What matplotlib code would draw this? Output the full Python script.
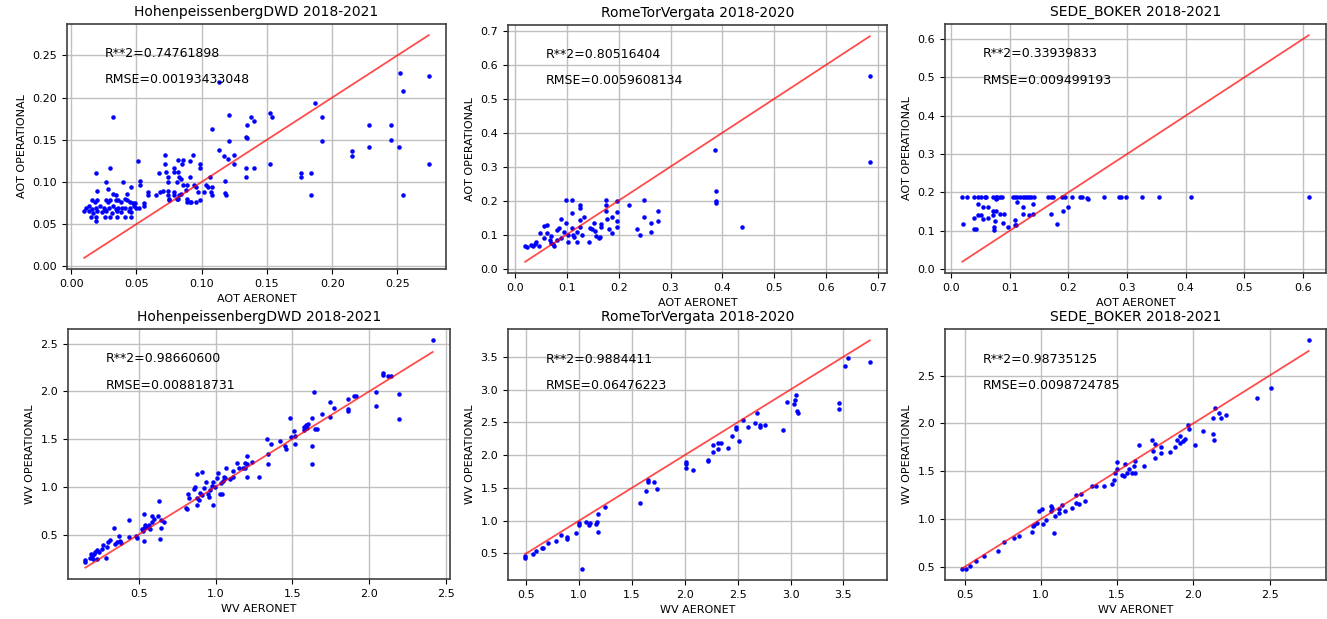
import numpy as np
import matplotlib
matplotlib.use('Agg')
from matplotlib import pyplot as plt

# (AERONET, OPERATIONAL) pairs
hoh_aot = [
    (0.011, 0.069), (0.010, 0.065), (0.014, 0.071), (0.014, 0.065), (0.015, 0.059), (0.016, 0.068),
    (0.016, 0.078), (0.017, 0.063), (0.018, 0.076), (0.019, 0.069), (0.019, 0.058), (0.019, 0.054),
    (0.020, 0.079), (0.020, 0.065), (0.020, 0.089), (0.019, 0.111), (0.022, 0.071), (0.024, 0.064),
    (0.025, 0.069), (0.026, 0.067), (0.026, 0.059), (0.027, 0.078), (0.027, 0.100), (0.027, 0.065),
    (0.028, 0.076), (0.028, 0.092), (0.029, 0.069), (0.030, 0.058), (0.030, 0.116), (0.030, 0.078),
    (0.031, 0.063), (0.032, 0.086), (0.032, 0.071), (0.032, 0.177), (0.034, 0.068), (0.034, 0.078),
    (0.034, 0.084), (0.035, 0.065), (0.035, 0.059), (0.036, 0.069), (0.036, 0.078), (0.038, 0.076),
    (0.038, 0.064), (0.039, 0.069), (0.040, 0.100), (0.041, 0.080), (0.041, 0.069), (0.041, 0.059),
    (0.043, 0.078), (0.043, 0.086), (0.044, 0.065), (0.045, 0.069), (0.045, 0.076), (0.046, 0.064),
    (0.046, 0.059), (0.046, 0.094), (0.047, 0.075), (0.048, 0.071), (0.049, 0.075), (0.050, 0.069),
    (0.051, 0.125), (0.052, 0.069), (0.053, 0.101), (0.053, 0.096), (0.056, 0.075), (0.056, 0.071),
    (0.059, 0.088), (0.059, 0.085), (0.065, 0.084), (0.067, 0.111), (0.068, 0.088), (0.070, 0.089),
    (0.072, 0.132), (0.072, 0.121), (0.073, 0.112), (0.074, 0.106), (0.074, 0.100), (0.074, 0.089),
    (0.074, 0.084), (0.075, 0.080), (0.075, 0.078), (0.079, 0.116), (0.079, 0.112), (0.079, 0.088),
    (0.079, 0.084), (0.081, 0.080), (0.082, 0.080), (0.083, 0.106), (0.083, 0.084), (0.082, 0.126),
    (0.084, 0.104), (0.084, 0.086), (0.085, 0.121), (0.086, 0.126), (0.086, 0.096), (0.082, 0.112),
    (0.081, 0.100), (0.088, 0.090), (0.089, 0.096), (0.091, 0.106), (0.091, 0.125), (0.093, 0.132),
    (0.094, 0.096), (0.096, 0.094), (0.097, 0.088), (0.089, 0.080), (0.091, 0.076), (0.092, 0.076),
    (0.096, 0.076), (0.089, 0.076), (0.099, 0.121), (0.099, 0.116), (0.099, 0.078), (0.102, 0.088),
    (0.103, 0.096), (0.105, 0.094), (0.106, 0.106), (0.108, 0.094), (0.108, 0.085), (0.107, 0.088),
    (0.108, 0.163), (0.113, 0.138), (0.113, 0.218), (0.117, 0.131), (0.118, 0.101), (0.118, 0.087),
    (0.119, 0.084), (0.120, 0.127), (0.121, 0.179), (0.121, 0.148), (0.125, 0.132), (0.125, 0.121),
    (0.134, 0.117), (0.140, 0.117), (0.134, 0.106), (0.138, 0.177), (0.140, 0.172), (0.135, 0.167),
    (0.134, 0.153), (0.135, 0.152), (0.152, 0.182), (0.154, 0.177), (0.152, 0.121), (0.187, 0.193),
    (0.192, 0.177), (0.192, 0.148), (0.176, 0.110), (0.176, 0.106), (0.184, 0.111), (0.184, 0.085),
    (0.215, 0.137), (0.215, 0.131), (0.228, 0.167), (0.228, 0.142), (0.245, 0.167), (0.245, 0.150),
    (0.251, 0.142), (0.252, 0.229), (0.254, 0.208), (0.254, 0.084), (0.274, 0.226), (0.274, 0.121),
]

rome_aot = [
    (0.684, 0.566), (0.684, 0.315), (0.386, 0.349), (0.388, 0.227), (0.388, 0.198), (0.388, 0.193),
    (0.437, 0.123), (0.248, 0.203), (0.248, 0.153), (0.220, 0.186), (0.235, 0.116), (0.241, 0.099),
    (0.262, 0.133), (0.262, 0.109), (0.276, 0.170), (0.276, 0.140), (0.197, 0.198), (0.197, 0.167),
    (0.197, 0.140), (0.197, 0.123), (0.187, 0.152), (0.181, 0.116), (0.187, 0.106), (0.176, 0.201),
    (0.176, 0.186), (0.176, 0.170), (0.178, 0.145), (0.166, 0.130), (0.166, 0.123), (0.165, 0.092),
    (0.162, 0.089), (0.152, 0.133), (0.155, 0.110), (0.149, 0.116), (0.145, 0.120), (0.143, 0.077),
    (0.157, 0.095), (0.126, 0.186), (0.126, 0.178), (0.133, 0.152), (0.126, 0.142), (0.126, 0.123),
    (0.130, 0.099), (0.119, 0.109), (0.119, 0.079), (0.111, 0.164), (0.110, 0.201), (0.098, 0.201),
    (0.110, 0.118), (0.113, 0.099), (0.114, 0.094), (0.103, 0.079), (0.103, 0.099), (0.098, 0.133),
    (0.094, 0.109), (0.088, 0.147), (0.086, 0.118), (0.082, 0.113), (0.089, 0.091), (0.081, 0.084),
    (0.076, 0.065), (0.070, 0.075), (0.067, 0.084), (0.062, 0.128), (0.057, 0.126), (0.062, 0.106),
    (0.056, 0.089), (0.049, 0.106), (0.046, 0.065), (0.041, 0.079), (0.038, 0.073), (0.035, 0.065),
    (0.032, 0.070), (0.023, 0.063), (0.020, 0.065), (0.073, 0.072), (0.070, 0.097),
]

sede_aot = [
    (0.019, 0.188), (0.027, 0.188), (0.039, 0.188), (0.046, 0.188), (0.051, 0.188), (0.057, 0.188),
    (0.060, 0.188), (0.071, 0.188), (0.076, 0.188), (0.078, 0.188), (0.083, 0.188), (0.087, 0.188),
    (0.106, 0.188), (0.109, 0.188), (0.113, 0.188), (0.117, 0.188), (0.122, 0.188), (0.126, 0.188),
    (0.129, 0.188), (0.133, 0.188), (0.137, 0.188), (0.141, 0.188), (0.166, 0.188), (0.170, 0.188),
    (0.174, 0.188), (0.189, 0.188), (0.194, 0.188), (0.207, 0.188), (0.219, 0.188), (0.223, 0.188),
    (0.231, 0.186), (0.234, 0.182), (0.261, 0.188), (0.286, 0.188), (0.289, 0.188), (0.299, 0.188),
    (0.326, 0.188), (0.354, 0.188), (0.409, 0.188), (0.610, 0.188), (0.079, 0.185), (0.076, 0.183),
    (0.021, 0.118), (0.039, 0.134), (0.046, 0.169), (0.046, 0.142), (0.051, 0.142), (0.039, 0.105),
    (0.043, 0.105), (0.055, 0.162), (0.063, 0.162), (0.055, 0.130), (0.063, 0.134), (0.071, 0.151),
    (0.076, 0.151), (0.071, 0.140), (0.074, 0.125), (0.073, 0.109), (0.073, 0.102), (0.083, 0.144),
    (0.090, 0.144), (0.089, 0.120), (0.097, 0.109), (0.109, 0.129), (0.109, 0.116), (0.113, 0.175),
    (0.122, 0.162), (0.122, 0.144), (0.133, 0.140), (0.140, 0.169), (0.140, 0.144), (0.171, 0.144),
    (0.180, 0.118), (0.191, 0.151), (0.199, 0.162), (0.111, 0.114),
]

hoh_wv = [
    (2.413, 2.535), (2.088, 2.190), (2.088, 2.172), (2.125, 2.165), (2.140, 2.165), (2.197, 1.978),
    (2.197, 1.706), (2.043, 1.999), (2.043, 1.844), (1.898, 1.953), (1.915, 1.953), (1.865, 1.918),
    (1.859, 1.819), (1.859, 1.795), (1.768, 1.830), (1.742, 1.890), (1.742, 1.735), (1.696, 1.766),
    (1.642, 1.999), (1.627, 1.724), (1.648, 1.611), (1.660, 1.611), (1.627, 1.428), (1.627, 1.237),
    (1.605, 1.660), (1.590, 1.646), (1.577, 1.625), (1.577, 1.600), (1.594, 1.618), (1.486, 1.724),
    (1.508, 1.590), (1.490, 1.519), (1.518, 1.449), (1.518, 1.530), (1.453, 1.424), (1.460, 1.399),
    (1.421, 1.477), (1.362, 1.449), (1.334, 1.502), (1.339, 1.343), (1.339, 1.237), (1.280, 1.107),
    (1.237, 1.265), (1.204, 1.318), (1.204, 1.237), (1.204, 1.107), (1.193, 1.248), (1.178, 1.195),
    (1.193, 1.195), (1.139, 1.248), (1.150, 1.195), (1.117, 1.167), (1.113, 1.107), (1.096, 1.082),
    (1.070, 1.202), (1.063, 1.089), (1.057, 1.107), (1.048, 1.061), (1.035, 1.036), (1.042, 0.930),
    (1.031, 0.930), (1.016, 1.142), (1.009, 1.089), (0.998, 1.001), (0.983, 1.054), (0.977, 1.011),
    (0.966, 0.966), (0.955, 0.895), (0.951, 0.920), (0.983, 0.814), (0.936, 1.054), (0.925, 0.983),
    (0.914, 1.160), (0.914, 0.913), (0.896, 0.937), (0.880, 1.131), (0.892, 0.860), (0.880, 0.884),
    (0.865, 1.001), (0.859, 0.973), (0.877, 0.814), (0.821, 0.920), (0.810, 0.779), (0.814, 0.765),
    (0.825, 0.884), (0.663, 0.631), (0.630, 0.849), (0.641, 0.454), (0.645, 0.567), (0.645, 0.648),
    (0.624, 0.694), (0.602, 0.666), (0.587, 0.694), (0.587, 0.631), (0.576, 0.560), (0.565, 0.595),
    (0.554, 0.578), (0.543, 0.602), (0.537, 0.567), (0.537, 0.719), (0.537, 0.437), (0.528, 0.532),
    (0.522, 0.553), (0.489, 0.461), (0.485, 0.489), (0.435, 0.648), (0.435, 0.479), (0.385, 0.412),
    (0.381, 0.437), (0.370, 0.489), (0.359, 0.419), (0.348, 0.401), (0.342, 0.567), (0.316, 0.447),
    (0.298, 0.419), (0.294, 0.366), (0.268, 0.391), (0.262, 0.348), (0.229, 0.341), (0.240, 0.320),
    (0.218, 0.320), (0.207, 0.295), (0.197, 0.278), (0.190, 0.295), (0.181, 0.250), (0.203, 0.243),
    (0.229, 0.243), (0.153, 0.236), (0.153, 0.207), (0.285, 0.253),
]

rome_wv = [
    (3.749, 3.418), (3.547, 3.485), (3.516, 3.356), (3.460, 2.792), (3.460, 2.705), (3.056, 2.921),
    (3.040, 2.833), (3.031, 2.782), (3.062, 2.669), (3.072, 2.649), (2.969, 2.808), (2.925, 2.387),
    (2.683, 2.638), (2.667, 2.490), (2.714, 2.464), (2.714, 2.433), (2.761, 2.454), (2.552, 2.536),
    (2.596, 2.433), (2.512, 2.213), (2.487, 2.433), (2.487, 2.403), (2.450, 2.285), (2.409, 2.115),
    (2.341, 2.192), (2.316, 2.177), (2.316, 2.090), (2.266, 2.054), (2.266, 2.156), (2.223, 1.910),
    (2.217, 1.930), (2.073, 1.767), (2.014, 1.895), (2.014, 1.859), (2.014, 1.808), (1.734, 1.485),
    (1.713, 1.587), (1.650, 1.613), (1.650, 1.595), (1.635, 1.449), (1.573, 1.269), (1.246, 1.208),
    (1.175, 1.100), (1.165, 0.987), (1.159, 0.951), (1.181, 0.833), (1.103, 0.962), (1.091, 0.936),
    (1.066, 0.987), (1.000, 0.962), (1.000, 0.936), (0.975, 0.818), (1.029, 0.269), (0.886, 0.746),
    (0.886, 0.715), (0.833, 0.782), (0.780, 0.695), (0.708, 0.654), (0.646, 0.587), (0.662, 0.577),
    (0.593, 0.541), (0.562, 0.485), (0.491, 0.464), (0.491, 0.423),
]

sede_wv = [
    (2.757, 2.868), (2.511, 2.367), (2.420, 2.265), (2.217, 2.089), (2.185, 2.054), (2.167, 2.104),
    (2.141, 2.160), (2.130, 2.054), (2.130, 1.886), (2.137, 1.826), (2.065, 1.921), (2.011, 1.774),
    (1.967, 1.984), (1.972, 1.939), (1.946, 1.833), (1.935, 1.816), (1.913, 1.868), (1.913, 1.798),
    (1.891, 1.823), (1.880, 1.753), (1.848, 1.704), (1.789, 1.753), (1.789, 1.693), (1.746, 1.788),
    (1.746, 1.640), (1.728, 1.823), (1.739, 1.711), (1.646, 1.774), (1.680, 1.553), (1.615, 1.605),
    (1.609, 1.553), (1.598, 1.482), (1.620, 1.482), (1.580, 1.528), (1.565, 1.482), (1.550, 1.577),
    (1.543, 1.447), (1.533, 1.465), (1.500, 1.598), (1.500, 1.528), (1.485, 1.482), (1.478, 1.412),
    (1.467, 1.370), (1.413, 1.342), (1.359, 1.342), (1.337, 1.342), (1.293, 1.184), (1.250, 1.156),
    (1.228, 1.167), (1.261, 1.261), (1.228, 1.247), (1.207, 1.114), (1.159, 1.079), (1.137, 1.149),
    (1.120, 1.061), (1.120, 1.107), (1.093, 1.037), (1.076, 1.114), (1.065, 1.132), (1.065, 1.079),
    (1.087, 0.851), (1.007, 1.107), (0.985, 1.086), (1.033, 0.991), (1.011, 0.946), (0.978, 0.956),
    (0.957, 0.939), (0.946, 0.932), (0.941, 0.868), (0.854, 0.826), (0.826, 0.805), (0.761, 0.756),
    (0.717, 0.665), (0.630, 0.616), (0.572, 0.560), (0.537, 0.511), (0.507, 0.482), (0.485, 0.482),
]

titles = ['HohenpeissenbergDWD 2018-2021', 'RomeTorVergata 2018-2020', 'SEDE_BOKER 2018-2021'] * 2
datasets = [hoh_aot, rome_aot, sede_aot, hoh_wv, rome_wv, sede_wv]
kinds = ['AOT'] * 3 + ['WV'] * 3
r2_text = ['R**2=0.74761898', 'R**2=0.80516404', 'R**2=0.33939833',
           'R**2=0.98660600', 'R**2=0.9884411', 'R**2=0.98735125']
rmse_text = ['RMSE=0.00193433048', 'RMSE=0.0059608134', 'RMSE=0.009499193',
             'RMSE=0.008818731', 'RMSE=0.06476223', 'RMSE=0.0098724785']

# axes boxes in pixels: left, right, top, bottom
boxes = [(67, 446, 24, 269), (508, 887, 25, 273), (945, 1326, 24, 273),
         (68, 450, 329, 579), (508, 887, 329, 580), (945, 1326, 329, 580)]

W, H = 1327, 619
fig = plt.figure(figsize=(W / 100, H / 100), dpi=100)

for i in range(6):
    l, r, t, b = boxes[i]
    ax = fig.add_axes([l / W, 1 - b / H, (r - l) / W, (b - t) / H])
    x, y = np.array(datasets[i]).T
    ax.scatter(x, y, s=5, c='blue', zorder=3)
    ax.plot([x.min(), x.max()], [x.min(), x.max()], color='red', alpha=0.7, lw=1.3, zorder=4)
    ax.grid(True, color='#c0c0c0', lw=1)
    ax.set_title(titles[i], fontsize=10)
    ax.set_xlabel(kinds[i] + ' AERONET', fontsize=8)
    ax.set_ylabel(kinds[i] + ' OPERATIONAL', fontsize=8)
    ax.tick_params(labelsize=8)
    ax.text(0.1, 0.88, r2_text[i], transform=ax.transAxes, fontsize=9, va='center')
    ax.text(0.1, 0.775, rmse_text[i], transform=ax.transAxes, fontsize=9, va='center')
    for s in ax.spines.values():
        s.set_color('#404040')
        s.set_linewidth(1.2)

plt.savefig('out.png', dpi=100)
